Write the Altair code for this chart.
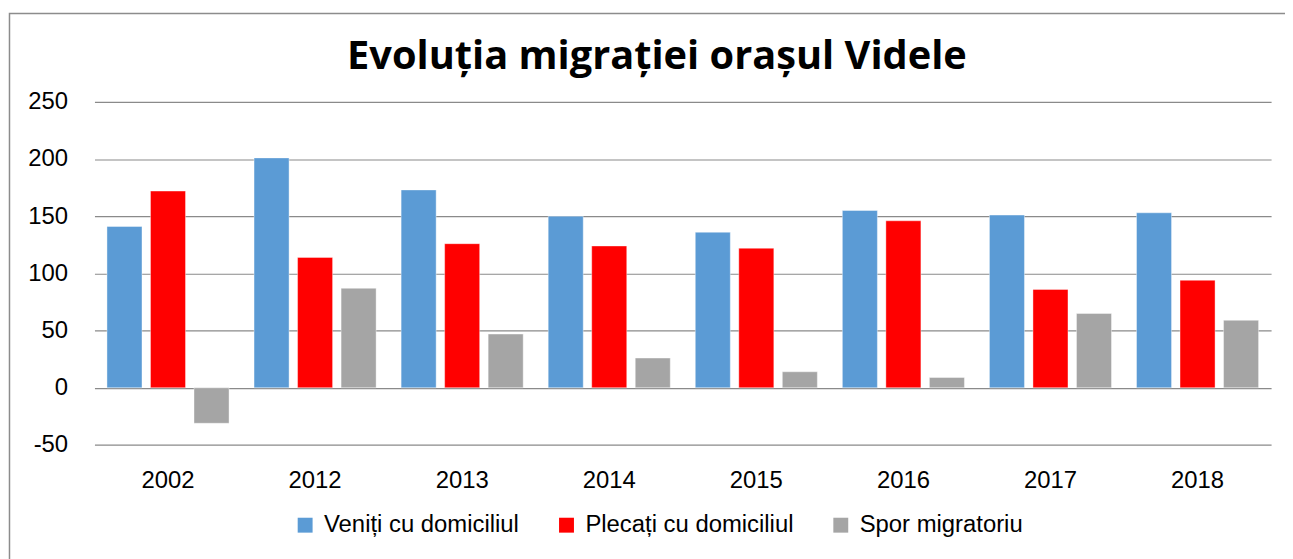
import altair as alt
import pandas as pd

years = ["2002", "2012", "2013", "2014", "2015", "2016", "2017", "2018"]
veniti = [141, 201, 173, 150, 136, 155, 151, 153]
plecati = [172, 114, 126, 124, 122, 146, 86, 94]
spor = [-31, 87, 47, 26, 14, 9, 65, 59]
series = ["Veniți cu domiciliul", "Plecați cu domiciliul", "Spor migratoriu"]
colors = ["#5B9BD5", "#FF0000", "#A5A5A5"]
y_ticks = [-50, 0, 50, 100, 150, 200, 250]
title_text = ["Evoluția migrației orașul Videle"]

rows = []
for i, yr in enumerate(years):
    for s, vals in zip(series, [veniti, plecati, spor]):
        rows.append({"An": yr, "Serie": s, "Valoare": vals[i]})
df = pd.DataFrame(rows)

FONT = "Liberation Sans, Arial, sans-serif"

frame = alt.Chart(pd.DataFrame({"k": [0]})).mark_rect(
    fill="transparent", stroke="#8c8c8c", strokeWidth=1.5
).encode(
    x=alt.value(-85.5), x2=alt.value(1300), y=alt.value(-89), y2=alt.value(600)
)

title = alt.Chart(pd.DataFrame({"t": title_text})).mark_text(
    font="Open Sans", fontSize=40, fontWeight="bold", color="#000000",
    align="center", baseline="alphabetic",
).encode(text="t:N", x=alt.value(566), y=alt.value(-32.7))

bars = alt.Chart(df).mark_bar(stroke="#ffffff", strokeWidth=0.8, strokeOpacity=0.5).encode(
    x=alt.X(
        "An:N",
        sort=years,
        scale=alt.Scale(paddingInner=0.17, paddingOuter=0.085),
        axis=alt.Axis(
            title=None, labelAngle=0, ticks=False, domain=False, grid=False,
            labelFontSize=24, labelFont=FONT, labelColor="#000000", labelPadding=24,
        ),
    ),
    xOffset=alt.XOffset("Serie:N", sort=series, scale=alt.Scale(paddingInner=0.195, paddingOuter=0)),
    y=alt.Y(
        "Valoare:Q",
        scale=alt.Scale(domain=[-50, 250], nice=False),
        axis=alt.Axis(
            values=y_ticks, title=None, ticks=False, domain=False, grid=True,
            gridColor="#8a8a8a", gridWidth=1.2,
            labelFontSize=24, labelFont=FONT, labelColor="#000000", labelPadding=27,
            labelExpr="'' + datum.value",
        ),
    ),
    color=alt.Color(
        "Serie:N",
        sort=series,
        scale=alt.Scale(domain=series, range=colors),
        legend=alt.Legend(
            title=None, orient="none", direction="horizontal", legendX=200, legendY=414,
            symbolType="square", symbolSize=225, symbolStrokeWidth=0,
            labelFontSize=24, labelFont=FONT, labelColor="#000000", labelOffset=7,
            columnPadding=35, labelLimit=400, padding=0,
        ),
    ),
)

chart = alt.layer(frame, bars, title).properties(
    width=1184,
    height=345.3,
    padding={"left": 87, "top": 92.7, "right": 14, "bottom": 113},
    autosize=alt.AutoSizeParams(type="none"),
    background="white",
).configure_view(stroke=None)

chart.save("out.html", embed_options={"renderer": "svg", "actions": False})
